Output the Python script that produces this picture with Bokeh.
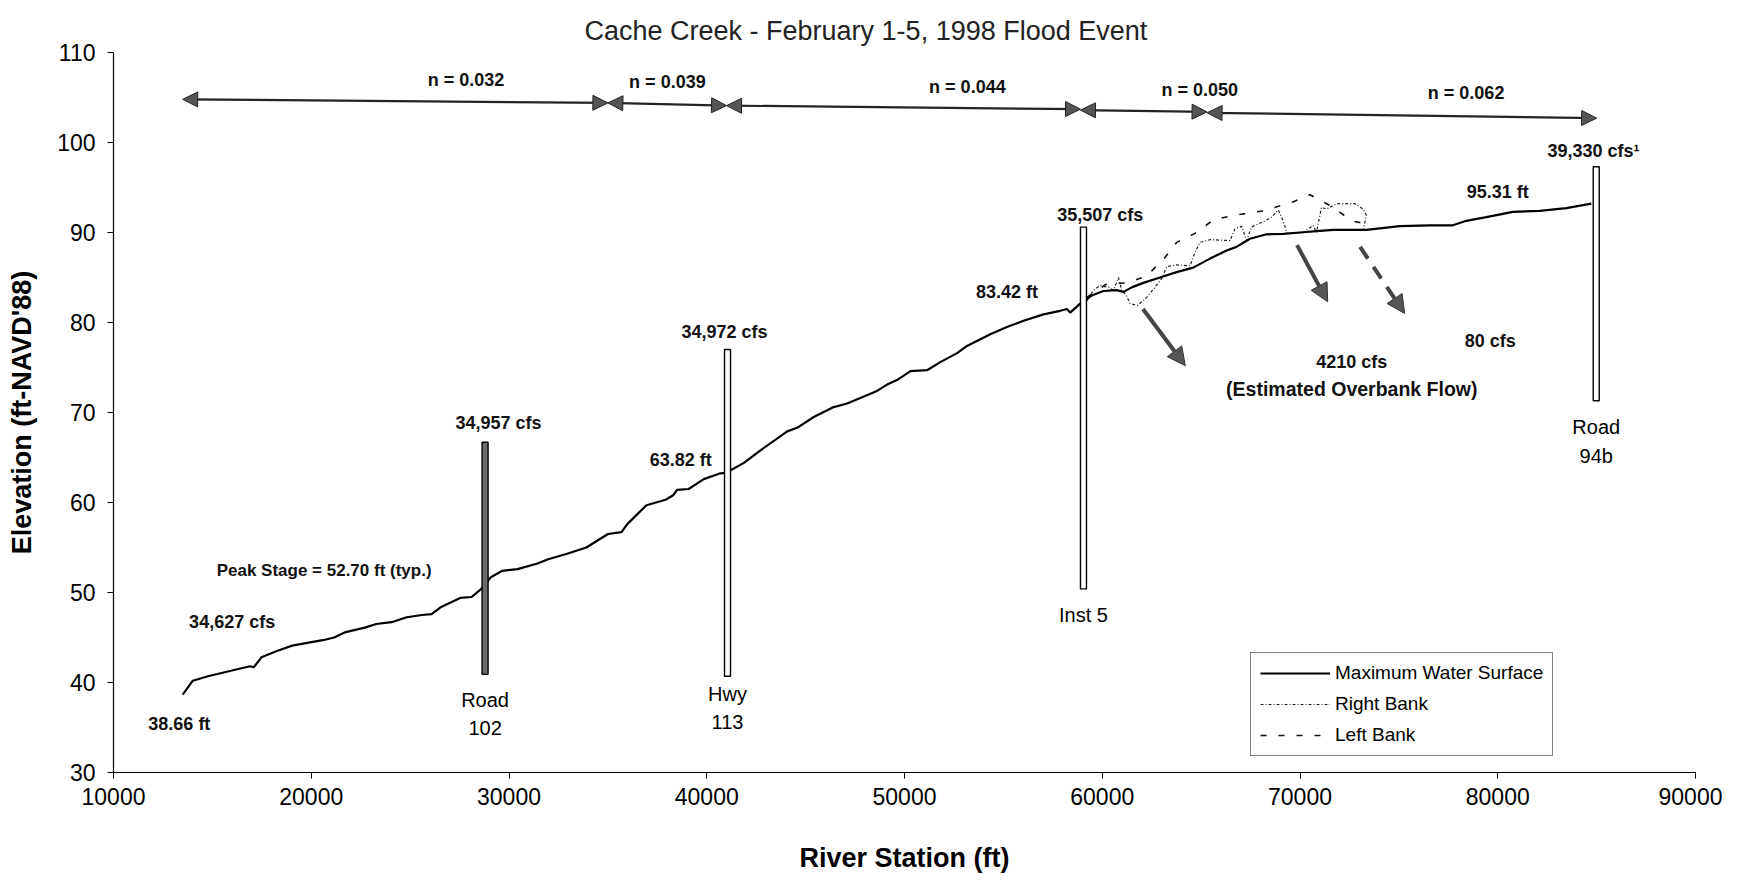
from bokeh.plotting import figure
from bokeh.models import (ColumnDataSource, Arrow, NormalHead, Legend, LegendItem,
                          Range1d, SingleIntervalTicker)
from bokeh.embed import file_html
from bokeh.resources import INLINE
from bokeh.core.properties import value

# ---------------- data ----------------
ws_x = [13500, 14010, 14780, 15940, 16900, 17100, 17480, 18260, 19040, 19800, 20580, 21160,
        21740, 22710, 23290, 24060, 24830, 25600, 26090, 26570, 27530, 28110, 28600, 29080,
        29650, 30430, 31400, 31980, 32940, 33910, 34640, 35010, 35690, 35980, 36950, 37920,
        38300, 38500, 39080, 39850, 40620, 40900, 41300, 41880, 42720, 44070, 44570, 45410,
        46420, 47100, 48610, 49120, 49620, 50300, 51140, 51810, 52660, 53160, 54340, 55180,
        56020, 57030, 57870, 58210, 58380, 58880, 59470, 60060, 60730, 61070, 61490, 62080,
        62920, 63760, 64600, 65450, 66290, 66790, 67470, 68310, 69150, 70000, 70840, 71680,
        73360, 75040, 76560, 77730, 78410, 79420, 80770, 82120, 83470, 84730]
ws_y = [38.66, 40.2, 40.7, 41.3, 41.8, 41.7, 42.8, 43.5, 44.1, 44.4, 44.7, 45.0,
        45.6, 46.1, 46.5, 46.7, 47.25, 47.5, 47.6, 48.4, 49.4, 49.5, 50.4, 51.7,
        52.4, 52.6, 53.2, 53.7, 54.3, 55.0, 56.0, 56.5, 56.7, 57.6, 59.7, 60.3,
        60.8, 61.4, 61.5, 62.6, 63.2, 63.3, 63.7, 64.4, 65.8, 67.9, 68.3, 69.5,
        70.6, 71.0, 72.4, 73.1, 73.6, 74.6, 74.7, 75.6, 76.6, 77.4, 78.7, 79.5,
        80.2, 80.9, 81.3, 81.5, 81.1, 82.1, 83.0, 83.5, 83.6, 83.4, 83.9, 84.4,
        85.0, 85.6, 86.1, 87.1, 88.0, 88.4, 89.3, 89.8, 89.85, 90.0, 90.15, 90.3,
        90.3, 90.7, 90.8, 90.8, 91.3, 91.7, 92.3, 92.4, 92.7, 93.2]

rb_x = [59220, 59560, 59890, 60320, 60570, 60820, 60990, 61200, 61410, 61780, 62170, 62590,
        63010, 63260, 63760, 64440, 64690, 64940, 65450, 66460, 66710, 67050, 67300, 67550,
        68140, 68560, 68900, 69150, 69350, 70160, 70660, 70830, 71090, 71340, 71840, 72770,
        73190, 73360, 73270, 73190]
rb_y = [82.4, 83.6, 84.1, 83.9, 83.6, 85.0, 83.5, 83.1, 82.1, 81.9, 82.6, 83.7,
        84.9, 86.2, 86.4, 86.3, 87.8, 88.9, 89.2, 89.1, 90.4, 90.7, 89.1, 90.6,
        91.2, 91.7, 92.5, 91.3, 89.9, 90.0, 90.8, 90.0, 92.8, 92.6, 93.2, 93.2,
        92.6, 91.9, 91.0, 90.2]

lb_x = [59220, 60230, 61320, 62250, 63090, 63760, 64690, 65620, 66630, 68140, 69650, 70500,
        71680, 72600, 73270]
lb_y = [82.8, 84.3, 84.4, 85.2, 87.0, 88.9, 89.9, 91.4, 91.9, 92.4, 93.4, 94.2,
        92.8, 91.3, 91.0]

struct_x = [28790, 41050, 59050, 84980]
struct_top = [66.7, 77.0, 90.6, 97.3]
struct_bottom = [40.9, 40.7, 50.4, 71.3]
struct_names = ["Road\n102", "Hwy\n113", "Inst 5", "Road\n94b"]
struct_label_y = [39.3, 40.0, 48.7, 69.6]

ann_text = ["34,627 cfs", "34,957 cfs", "34,972 cfs", "35,507 cfs", "39,330 cfs\u00b9",
            "38.66 ft", "Peak Stage = 52.70 ft (typ.)", "63.82 ft", "83.42 ft", "95.31 ft",
            "4210 cfs", "(Estimated Overbank Flow)", "80 cfs"]
ann_x = [16000, 29470, 40900, 59900, 84840, 13330, 20650, 38680, 55180, 80000,
         72620, 72620, 79620]
ann_y = [46.7, 68.8, 79.0, 92.0, 99.1, 35.4, 52.4, 64.7, 83.4, 94.5, 75.6, 72.6, 78.0]

n_text = ["n = 0.032", "n = 0.039", "n = 0.044", "n = 0.050", "n = 0.062"]
n_text_x = [27830, 38010, 53180, 64930, 78400]
n_text_y = [107.0, 106.7, 106.2, 105.85, 105.5]
n_bounds = [13500, 35000, 41000, 58900, 65300, 85000]
n_y_left = [104.8, 104.4, 104.1, 103.6, 103.3]
n_y_right = [104.4, 104.1, 103.7, 103.4, 102.7]

ob_x0 = [62060, 69850, 73040]
ob_y0 = [81.5, 88.6, 88.4]
ob_x1 = [64200, 71400, 75290]
ob_y1 = [75.2, 82.3, 81.0]

# ---------------- styles ----------------
FONT = "Liberation Sans"
STRUCT_FILL = ["#6a6a6a", "white", "white", "white"]
ANN_SIZE = ["18px"] * 6 + ["17px"] + ["18px"] * 4 + ["19.5px"] + ["18px"]

p = figure(width=1722, height=878, x_range=Range1d(10000, 90000), y_range=Range1d(30, 110),
           output_backend="svg", toolbar_location=None,
           min_border_left=113, min_border_right=27, min_border_top=52, min_border_bottom=106)
p.outline_line_color = None
p.xgrid.grid_line_color = None
p.ygrid.grid_line_color = None
p.background_fill_color = "white"
p.border_fill_color = "white"

p.title.text = "Cache Creek - February 1-5, 1998 Flood Event"
p.title.text_font = FONT
p.title.text_font_style = "normal"
p.title.text_font_size = "27px"
p.title.text_color = "#222222"
p.title.align = "left"
p.title.offset = 471
p.title.standoff = 13

p.xaxis.ticker = SingleIntervalTicker(interval=10000)
p.yaxis.ticker = SingleIntervalTicker(interval=10)
for ax in (p.xaxis[0], p.yaxis[0]):
    ax.axis_line_color = "black"
    ax.axis_line_width = 1.2
    ax.major_tick_line_color = "black"
    ax.major_tick_out = 6
    ax.major_tick_in = 0
    ax.minor_tick_line_color = None
    ax.major_label_text_font = FONT
    ax.major_label_text_font_size = "23px"
    ax.major_label_text_color = "black"
    ax.axis_label_text_font = FONT
    ax.axis_label_text_font_style = "bold"
    ax.axis_label_text_font_size = "27px"
    ax.axis_label_text_color = "black"
p.xaxis.axis_label = "River Station (ft)"
p.yaxis.axis_label = "Elevation (ft-NAVD'88)"
p.xaxis.major_label_standoff = 9
p.yaxis.major_label_standoff = 12
p.xaxis.axis_label_standoff = 35
p.yaxis.axis_label_standoff = 17

# banks
r_rb = p.line(rb_x, rb_y, line_color="#222222", line_width=1.2, line_dash="3 2 1 2")
r_lb = p.line(lb_x, lb_y, line_color="#111111", line_width=1.6, line_dash="6 12")

# water surface
r_ws = p.line(ws_x, ws_y, line_color="black", line_width=2.2)

# structures
ssrc = ColumnDataSource(dict(x=struct_x,
                             y=[(t + b) / 2 for t, b in zip(struct_top, struct_bottom)],
                             h=[t - b for t, b in zip(struct_top, struct_bottom)],
                             fill=STRUCT_FILL, name=struct_names, ly=struct_label_y))
p.rect(x="x", y="y", width=6, height="h", width_units="screen", source=ssrc,
       fill_color="fill", line_color="black", line_width=1.4)
p.text(x="x", y="ly", text="name", source=ssrc, text_font=value(FONT), text_font_size="20px",
       text_align="center", text_baseline="top", text_line_height=1.3, text_color="black")

# annotations
asrc = ColumnDataSource(dict(x=ann_x, y=ann_y, t=ann_text, s=ANN_SIZE))
p.text(x="x", y="y", text="t", source=asrc, text_font=value(FONT), text_font_style="bold",
       text_font_size="s", text_align="center", text_baseline="middle", text_color="#111111")

nsrc = ColumnDataSource(dict(x=n_text_x, y=n_text_y, t=n_text))
p.text(x="x", y="y", text="t", source=nsrc, text_font=value(FONT), text_font_style="bold",
       text_font_size="18px", text_align="center", text_baseline="middle", text_color="#111111")

# roughness-reach arrows
nasrc = ColumnDataSource(dict(x0=n_bounds[:-1], x1=n_bounds[1:], y0=n_y_left, y1=n_y_right))
p.add_layout(Arrow(x_start="x0", y_start="y0", x_end="x1", y_end="y1", source=nasrc,
                   line_color="#222222", line_width=2.2,
                   start=NormalHead(size=15, fill_color="#555555", line_color="#222222", line_width=1),
                   end=NormalHead(size=15, fill_color="#555555", line_color="#222222", line_width=1)))

# overbank flow arrows
obsrc = ColumnDataSource(dict(x0=ob_x0[:2], y0=ob_y0[:2], x1=ob_x1[:2], y1=ob_y1[:2]))
p.add_layout(Arrow(x_start="x0", y_start="y0", x_end="x1", y_end="y1", source=obsrc,
                   line_color="#444444", line_width=4,
                   end=NormalHead(size=18, fill_color="#555555", line_color="#333333", line_width=1)))
obsrc2 = ColumnDataSource(dict(x0=ob_x0[2:], y0=ob_y0[2:], x1=ob_x1[2:], y1=ob_y1[2:]))
p.add_layout(Arrow(x_start="x0", y_start="y0", x_end="x1", y_end="y1", source=obsrc2,
                   line_color="#444444", line_width=4, line_dash="14 10",
                   end=NormalHead(size=18, fill_color="#555555", line_color="#333333", line_width=1)))

legend = Legend(items=[LegendItem(label="Maximum Water Surface", renderers=[r_ws]),
                       LegendItem(label="Right Bank", renderers=[r_rb]),
                       LegendItem(label="Left Bank", renderers=[r_lb])],
                location=(1137, 16), orientation="vertical",
                border_line_color="black", border_line_width=1.2,
                background_fill_color="white", background_fill_alpha=1,
                padding=9, spacing=9, glyph_width=70, glyph_height=22, label_standoff=5,
                label_text_font=FONT, label_text_font_size="19px", label_text_color="black",
                margin=0)
p.add_layout(legend)

open("out.html", "w").write(file_html(p, INLINE))
